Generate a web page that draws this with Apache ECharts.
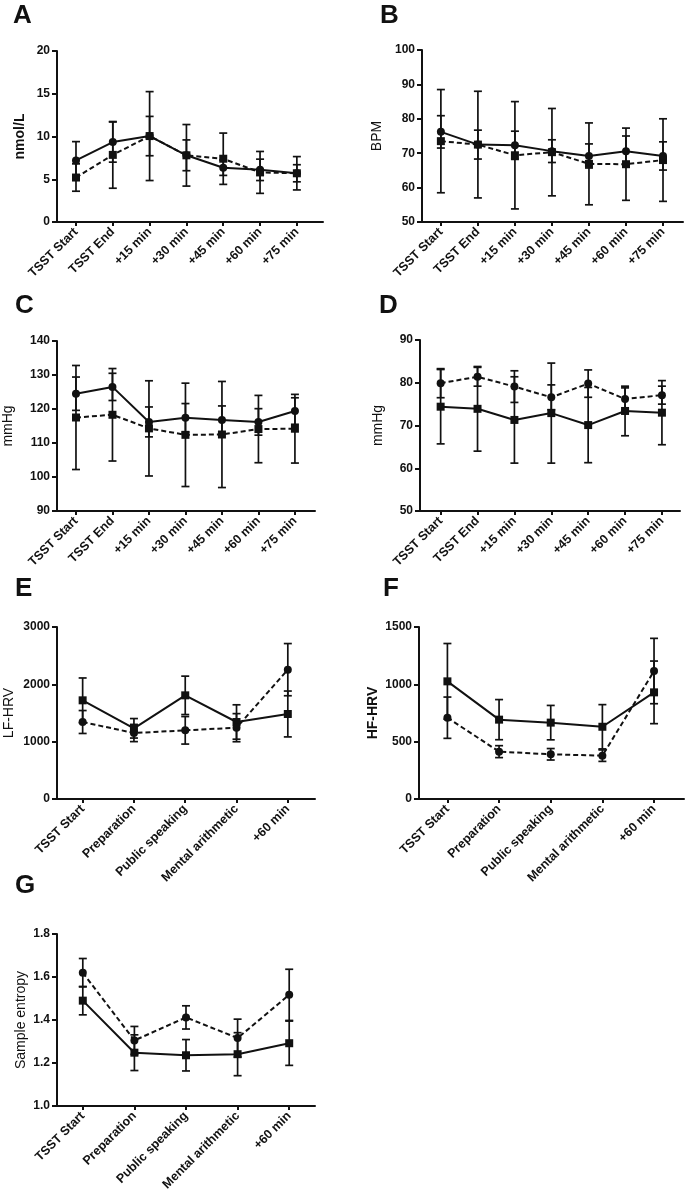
<!DOCTYPE html>
<html><head><meta charset="utf-8">
<script src="https://cdn.jsdelivr.net/npm/echarts@6/dist/echarts.min.js"></script>
<style>html,body{margin:0;padding:0;background:#fff}#c{width:685px;height:1200px}</style>
</head><body><div id="c"></div>
<script>
// ---------- categories ----------
const timeCats = ['TSST Start', 'TSST End', '+15 min', '+30 min', '+45 min', '+60 min', '+75 min'];
const phaseCats = ['TSST Start', 'Preparation', 'Public speaking', 'Mental arithmetic', '+60 min'];

// ---------- A: cortisol (nmol/L) ----------
const cortCircle    = [7.2, 9.35, 10.05, 7.8, 6.35, 6.1, 5.7];
const cortCircleErr = [2.2, 2.35, 2.3, 1.8, 0.9, 1.25, 1.0];
const cortSquare    = [5.2, 7.85, 10.05, 7.8, 7.4, 5.8, 5.7];
const cortSquareErr = [1.6, 3.9, 5.2, 3.6, 3.0, 2.45, 1.95];

// ---------- B: heart rate (BPM) ----------
const hrCircle    = [76.2, 72.5, 72.3, 70.6, 69.2, 70.6, 69.2];
const hrCircleErr = [4.7, 4.2, 4.1, 3.3, 3.5, 4.4, 4.1];
const hrSquare    = [73.5, 72.5, 69.4, 70.3, 66.9, 66.8, 68.0];
const hrSquareErr = [15.0, 15.5, 15.6, 12.7, 11.9, 10.5, 12.0];

// ---------- C: systolic BP (mmHg) ----------
const sbpCircle    = [124.5, 126.5, 116.2, 117.4, 116.8, 116.2, 119.4];
const sbpCircleErr = [4.9, 4.0, 4.4, 4.2, 4.1, 3.9, 3.9];
const sbpSquare    = [117.5, 118.3, 114.3, 112.4, 112.5, 114.1, 114.2];
const sbpSquareErr = [15.3, 13.6, 14.0, 15.2, 15.6, 9.9, 10.1];

// ---------- D: diastolic BP (mmHg) ----------
const dbpCircle    = [79.9, 81.4, 79.1, 76.6, 79.8, 76.2, 77.1];
const dbpCircleErr = [3.4, 2.2, 3.7, 2.9, 3.2, 2.6, 2.1];
const dbpSquare    = [74.4, 73.9, 71.3, 72.9, 70.1, 73.4, 73.0];
const dbpSquareErr = [8.7, 9.9, 10.1, 11.7, 8.8, 5.8, 7.5];

// ---------- E: LF-HRV ----------
const lfCircle    = [1343, 1151, 1198, 1244, 2256];
const lfCircleErr = [200, 150, 240, 245, 455];
const lfSquare    = [1721, 1233, 1808, 1343, 1483];
const lfSquareErr = [390, 170, 335, 300, 400];

// ---------- F: HF-HRV ----------
const hfCircle    = [709, 413, 390, 378, 1116];
const hfCircleErr = [180, 52, 50, 50, 285];
const hfSquare    = [1026, 692, 666, 630, 930];
const hfSquareErr = [330, 175, 150, 193, 273];

// ---------- G: Sample entropy ----------
const seCircle    = [1.620, 1.305, 1.412, 1.316, 1.517];
const seCircleErr = [0.066, 0.065, 0.054, 0.088, 0.119];
const seSquare    = [1.490, 1.248, 1.236, 1.241, 1.292];
const seSquareErr = [0.066, 0.083, 0.073, 0.100, 0.103];

// ---------- y-axis scales ----------
const yScaleA = [0, 20, 5];
const yScaleB = [50, 100, 10];
const yScaleC = [90, 140, 10];
const yScaleD = [50, 90, 10];
const yScaleE = [0, 3000, 1000];
const yScaleF = [0, 1500, 500];
const yScaleG = [1.0, 1.8, 0.2];

const FF = '"Liberation Sans", Arial, Helvetica, sans-serif';
const INK = '#111';

const panels = [
  {letter:'A', lp:[13,3], cats:timeCats, name:'nmol/L', nb:true, nameGap:30, ys:yScaleA,
   circ:cortCircle, circE:cortCircleErr, sq:cortSquare, sqE:cortSquareErr, circDashed:false,
   g:{left:57, top:51, width:266, height:171}, xr:[-0.516, 6.71]},
  {letter:'B', lp:[380,3], cats:timeCats, name:'BPM', nb:false, nameGap:38, ys:yScaleB,
   circ:hrCircle, circE:hrCircleErr, sq:hrSquare, sqE:hrSquareErr, circDashed:false,
   g:{left:422, top:50, width:261, height:172}, xr:[-0.51, 6.54]},
  {letter:'C', lp:[15,293], cats:timeCats, name:'mmHg', nb:false, nameGap:42, ys:yScaleC,
   circ:sbpCircle, circE:sbpCircleErr, sq:sbpSquare, sqE:sbpSquareErr, circDashed:false,
   g:{left:57, top:341, width:258, height:170}, xr:[-0.52, 6.55]},
  {letter:'D', lp:[379,293], cats:timeCats, name:'mmHg', nb:false, nameGap:35, ys:yScaleD,
   circ:dbpCircle, circE:dbpCircleErr, sq:dbpSquare, sqE:dbpSquareErr, circDashed:true,
   g:{left:420, top:340, width:260, height:171}, xr:[-0.56, 6.49]},
  {letter:'E', lp:[15,576], cats:phaseCats, name:'LF-HRV', nb:false, nameGap:41, ys:yScaleE,
   circ:lfCircle, circE:lfCircleErr, sq:lfSquare, sqE:lfSquareErr, circDashed:true,
   g:{left:57, top:627, width:258, height:172}, xr:[-0.5, 4.53]},
  {letter:'F', lp:[383,576], cats:phaseCats, name:'HF-HRV', nb:true, nameGap:39, ys:yScaleF,
   circ:hfCircle, circE:hfCircleErr, sq:hfSquare, sqE:hfSquareErr, circDashed:true,
   g:{left:419, top:627, width:265, height:172}, xr:[-0.55, 4.58]},
  {letter:'G', lp:[15,873], cats:phaseCats, name:'Sample entropy', nb:false, nameGap:29, ys:yScaleG,
   circ:seCircle, circE:seCircleErr, sq:seSquare, sqE:seSquareErr, circDashed:true, dec:1,
   g:{left:57, top:934, width:258, height:172}, xr:[-0.5, 4.5]}
];

function errRender(params, api) {
  const x = api.value(0), y = api.value(1), e = api.value(2);
  const top = api.coord([x, y + e]);
  const bot = api.coord([x, y - e]);
  const hw = 4;
  const st = {stroke: INK, lineWidth: 1.7};
  return {type:'group', children:[
    {type:'line', shape:{x1:top[0], y1:top[1], x2:bot[0], y2:bot[1]}, style:st},
    {type:'line', shape:{x1:top[0]-hw, y1:top[1], x2:top[0]+hw, y2:top[1]}, style:st},
    {type:'line', shape:{x1:bot[0]-hw, y1:bot[1], x2:bot[0]+hw, y2:bot[1]}, style:st}
  ]};
}

const option = {animation:false, backgroundColor:'#fff', title:[], grid:[], xAxis:[], yAxis:[], series:[]};
const axisLineStyle = {color: INK, width: 2};

panels.forEach((p, i) => {
  option.title.push({text:p.letter, left:p.lp[0], top:p.lp[1], padding:0,
    textStyle:{fontSize:26, fontWeight:'bold', color:INK, fontFamily:FF}});
  option.grid.push(Object.assign({containLabel:false}, p.g));
  const idx = p.cats.map((_, k) => k);
  option.xAxis.push({gridIndex:i, type:'value', min:p.xr[0], max:p.xr[1],
    axisLine:{show:true, onZero:false, lineStyle:axisLineStyle},
    axisTick:{show:true, customValues:idx, length:4, lineStyle:axisLineStyle},
    axisLabel:{show:true, customValues:idx, rotate:45, margin:8, fontSize:12.5, fontWeight:'bold',
      color:INK, fontFamily:FF, formatter:(v) => p.cats[Math.round(v)]},
    splitLine:{show:false}});
  option.yAxis.push({gridIndex:i, type:'value', min:p.ys[0], max:p.ys[1], interval:p.ys[2],
    name:p.name, nameLocation:'middle', nameGap:p.nameGap, nameRotate:90,
    nameTextStyle:{fontSize:14, fontWeight:p.nb ? 'bold' : 'normal', color:INK, fontFamily:FF},
    axisLine:{show:true, onZero:false, lineStyle:axisLineStyle},
    axisTick:{show:true, length:5, lineStyle:axisLineStyle},
    axisLabel:{show:true, margin:7, fontSize:12, fontWeight:'bold', color:INK, fontFamily:FF,
      formatter:(v) => p.dec ? v.toFixed(p.dec) : String(v)},
    splitLine:{show:false}});

  const circData = p.circ.map((v, k) => [k, v]);
  const sqData = p.sq.map((v, k) => [k, v]);
  const circErr = p.circ.map((v, k) => [k, v, p.circE[k]]);
  const sqErr = p.sq.map((v, k) => [k, v, p.sqE[k]]);

  option.series.push({type:'custom', xAxisIndex:i, yAxisIndex:i, renderItem:errRender,
    data:sqErr, encode:{x:0, y:1}, z:2, silent:true});
  option.series.push({type:'custom', xAxisIndex:i, yAxisIndex:i, renderItem:errRender,
    data:circErr, encode:{x:0, y:1}, z:2, silent:true});
  option.series.push({type:'line', xAxisIndex:i, yAxisIndex:i, data:sqData,
    symbol:'rect', symbolSize:8, z:3,
    itemStyle:{color:INK},
    lineStyle:{color:INK, width:2, type: p.circDashed ? 'solid' : [5, 3]}});
  option.series.push({type:'line', xAxisIndex:i, yAxisIndex:i, data:circData,
    symbol:'circle', symbolSize:8, z:3,
    itemStyle:{color:INK},
    lineStyle:{color:INK, width:2, type: p.circDashed ? [5, 3] : 'solid'}});
});

const chart = echarts.init(document.getElementById('c'), null, {renderer:'canvas'});
chart.setOption(option);
</script>
</body></html>
